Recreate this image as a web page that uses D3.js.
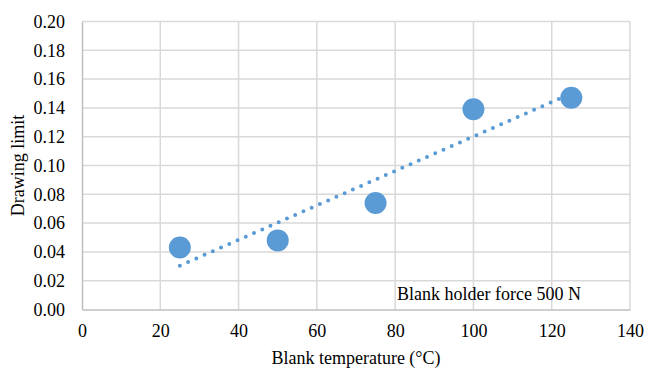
<!DOCTYPE html>
<html>
<head>
<meta charset="utf-8">
<script src="https://cdn.jsdelivr.net/npm/d3@7"></script>
<style>
  html, body { margin: 0; padding: 0; background: #fff; }
  svg { display: block; }
</style>
</head>
<body>
<svg id="chart" width="648" height="369" font-family="Liberation Serif"></svg>
<script>
// Blank temperature (°C) vs drawing limit, blank holder force 500 N
const temperatures = [25, 50, 75, 100, 125];
const drawingLimits = [0.043, 0.048, 0.074, 0.139, 0.147];
const xTicks = [0, 20, 40, 60, 80, 100, 120, 140];
const yTicks = [0, 0.02, 0.04, 0.06, 0.08, 0.10, 0.12, 0.14, 0.16, 0.18, 0.20];
const xTitle = "Blank temperature (°C)";
const yTitle = "Drawing limit";
const note = "Blank holder force 500 N";

const FONT = "Liberation Serif";
const SIZE = 18;

const svg = d3.select("#chart");
const plot = { left: 82, right: 630, top: 21.5, bottom: 309.5 };

const x = d3.scaleLinear().domain([0, 140]).range([plot.left, plot.right]);
const y = d3.scaleLinear().domain([0, 0.20]).range([plot.bottom, plot.top]);

const grid = "#d9d9d9";
const blue = "#5b9bd5";

// gridlines
svg.append("g").selectAll("line").data(yTicks.slice(1)).join("line")
  .attr("x1", plot.left).attr("x2", plot.right)
  .attr("y1", d => y(d)).attr("y2", d => y(d))
  .attr("stroke", grid).attr("stroke-width", 1.5);
svg.append("g").selectAll("line").data(xTicks.slice(1)).join("line")
  .attr("y1", plot.top).attr("y2", plot.bottom)
  .attr("x1", d => x(d)).attr("x2", d => x(d))
  .attr("stroke", grid).attr("stroke-width", 1.5);

// axes
const xAxis = svg.append("g").attr("transform", `translate(0,${plot.bottom})`)
  .call(d3.axisBottom(x).tickValues(xTicks).tickSize(0).tickPadding(15).tickFormat(d3.format("d")));
const yAxis = svg.append("g").attr("transform", `translate(${plot.left},0)`)
  .call(d3.axisLeft(y).tickValues(yTicks).tickSize(0).tickPadding(17).tickFormat(d3.format(".2f")));
[xAxis, yAxis].forEach(a => {
  a.attr("font-family", FONT).attr("font-size", SIZE);
  a.select(".domain").attr("stroke", "#bfbfbf").attr("stroke-width", 1.5);
  a.selectAll("text").attr("fill", "#000");
});

// linear trendline (least squares)
const mx = d3.mean(temperatures), my = d3.mean(drawingLimits);
const slope = d3.sum(temperatures, (t, i) => (t - mx) * (drawingLimits[i] - my)) /
              d3.sum(temperatures, t => (t - mx) ** 2);
const intercept = my - slope * mx;
const t0 = d3.min(temperatures), t1 = d3.max(temperatures);
svg.append("line")
  .attr("x1", x(t0)).attr("y1", y(intercept + slope * t0))
  .attr("x2", x(t1)).attr("y2", y(intercept + slope * t1))
  .attr("stroke", blue).attr("stroke-width", 4)
  .attr("stroke-linecap", "round").attr("stroke-dasharray", "0 9");

// markers
svg.append("g").selectAll("circle").data(temperatures).join("circle")
  .attr("cx", d => x(d)).attr("cy", (d, i) => y(drawingLimits[i]))
  .attr("r", 11).attr("fill", blue);

// annotation
svg.append("text").attr("x", 397).attr("y", 300)
  .attr("font-size", SIZE).text(note);

// axis titles
svg.append("text").attr("x", (plot.left + plot.right) / 2).attr("y", 364)
  .attr("text-anchor", "middle").attr("font-size", SIZE).text(xTitle);
svg.append("text").attr("transform", `translate(24,${(plot.top + plot.bottom) / 2}) rotate(-90)`)
  .attr("text-anchor", "middle").attr("font-size", SIZE).text(yTitle);
</script>
</body>
</html>
